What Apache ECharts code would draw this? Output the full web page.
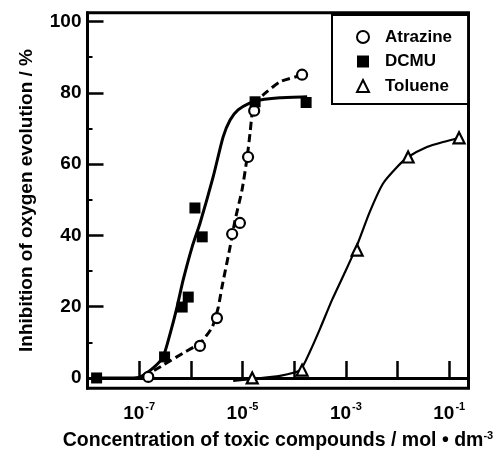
<!DOCTYPE html>
<html>
<head>
<meta charset="utf-8">
<script src="https://cdn.jsdelivr.net/npm/echarts@6/dist/echarts.min.js"></script>
<style>html,body{margin:0;padding:0;background:#fff}#c{width:501px;height:470px}</style>
</head>
<body>
<div id="c"></div>
<script>
// measured points
const atrazineX = [1.5e-7, 1.5e-6, 3.2e-6, 6.3e-6, 8.9e-6, 1.28e-5, 1.68e-5, 1.42e-4];
const atrazineY = [0.3, 9.0, 16.8, 40.4, 43.5, 62.0, 75.0, 85.1];
const dcmuX = [1.5e-8, 3.1e-7, 6.8e-7, 8.9e-7, 1.2e-6, 1.66e-6, 1.75e-5, 1.7e-4];
const dcmuY = [0, 5.9, 19.9, 22.7, 47.7, 39.6, 77.5, 77.3];
const tolueneX = [1.54e-5, 1.42e-4, 1.65e-3, 1.6e-2, 0.155];
const tolueneY = [0, 2.2, 35.9, 62.0, 67.4];
// fitted curves
const dcmuCurveX = [1.5e-8, 6.7e-8, 1.05e-7, 1.87e-7, 2.9e-7, 4.0e-7, 5.4e-7, 7.1e-7, 1.06e-6, 1.51e-6, 2.7e-6, 4.2e-6, 5.75e-6, 8.2e-6, 1.4e-5, 2.2e-5, 5.3e-5, 1.78e-4];
const dcmuCurveY = [0, 0, 0.3, 2.8, 5.9, 12.6, 19.9, 27.5, 36.8, 43.5, 56.4, 67.6, 72.4, 75.2, 77.2, 78.0, 78.6, 78.9];
const atrazineCurveX = [1.2e-7, 2.9e-7, 7.1e-7, 1.51e-6, 2.6e-6, 3.4e-6, 4.0e-6, 5.75e-6, 7.2e-6, 9.8e-6, 1.23e-5, 1.4e-5, 1.54e-5, 1.75e-5, 2.5e-5, 5.3e-5, 1.14e-4, 1.42e-4];
const atrazineCurveY = [0.3, 3.6, 7.0, 9.8, 14.3, 19.9, 25.5, 36.8, 44.4, 52.8, 62.0, 68.8, 74.4, 77.2, 79.4, 83.1, 84.6, 85.1];
const tolueneCurveX = [6.6e-6, 1.54e-5, 5.3e-5, 1.3e-4, 2.0e-4, 3.2e-4, 5.4e-4, 9.7e-4, 1.65e-3, 2.9e-3, 5.2e-3, 9.8e-3, 1.6e-2, 3.7e-2, 7.6e-2, 0.162];
const tolueneCurveY = [-0.8, -0.3, 0.6, 2.2, 7.3, 14.0, 21.9, 29.8, 37.3, 46.6, 54.5, 59.2, 62.0, 64.8, 66.2, 67.4];
// ticks
const xTickValues = [1e-7, 1e-6, 1e-5, 1e-4, 1e-3, 1e-2, 1e-1];
const xLabelValues = [1e-7, 1e-5, 1e-3, 1e-1];
const yMajorTicks = [0, 20, 40, 60, 80, 100];
const yMinorTicks = [10, 30, 50, 70, 90];
const seriesNames = ['Atrazine', 'DCMU', 'Toluene'];

const zip = (xs, ys) => xs.map((x, i) => [x, ys[i]]);
const FONT = 'Liberation Sans';

const chart = echarts.init(document.getElementById('c'), null, {renderer: 'canvas'});
chart.setOption({
  animation: false,
  backgroundColor: '#fff',
  textStyle: {fontFamily: FONT, color: '#000', fontWeight: 'bold'},
  grid: {left: 87.5, right: 32.5, top: 12.7, bottom: 81.7, show: true, borderColor: '#000', borderWidth: 3, backgroundColor: 'transparent'},
  legend: {
    data: seriesNames,
    orient: 'vertical',
    left: 332, top: 15,
    padding: [13, 16, 9, 24],
    itemWidth: 12, itemHeight: 12, itemGap: 6.5,
    borderColor: '#000', borderWidth: 2, backgroundColor: '#fff',
    textStyle: {fontFamily: FONT, fontSize: 17, fontWeight: 'bold', color: '#000', lineHeight: 18, padding: [0, 0, 0, 11]}
  },
  xAxis: {
    type: 'log', logBase: 10, min: 1e-8, max: 0.236,
    axisLine: {lineStyle: {color: '#000', width: 3}},
    axisTick: {inside: true, length: 17, customValues: xTickValues, lineStyle: {color: '#000', width: 2.5}},
    splitLine: {show: false},
    axisLabel: {
      customValues: xLabelValues, margin: 13,
      formatter: v => '{b|10}{s|' + Math.round(Math.log10(v)) + '}',
      rich: {
        b: {fontFamily: FONT, fontSize: 19, fontWeight: 'bold', color: '#000', lineHeight: 22, verticalAlign: 'bottom'},
        s: {fontFamily: FONT, fontSize: 11, fontWeight: 'bold', color: '#000', verticalAlign: 'top', padding: [0, 0, 10, 1]}
      }
    },
    name: 'Concentration of toxic compounds / mol • dm{s|-3}',
    nameLocation: 'middle', nameGap: 42,
    nameTextStyle: {fontFamily: FONT, fontSize: 19.5, fontWeight: 'bold', color: '#000',
      rich: {s: {fontFamily: FONT, fontSize: 11, fontWeight: 'bold', color: '#000', verticalAlign: 'top', padding: [0, 0, 10, 0]}}}
  },
  yAxis: [{
    type: 'value', min: -2.9, max: 102.5,
    axisLine: {lineStyle: {color: '#000', width: 3}},
    axisTick: {inside: true, length: 16, customValues: yMajorTicks, lineStyle: {color: '#000', width: 2.5}},
    splitLine: {show: false},
    axisLabel: {customValues: yMajorTicks, margin: 6, fontFamily: FONT, fontSize: 19, fontWeight: 'bold', color: '#000'},
    name: 'Inhibition of oxygen evolution / %',
    nameLocation: 'middle', nameGap: 51,
    nameTextStyle: {fontFamily: FONT, fontSize: 19, fontWeight: 'bold', color: '#000'}
  }, {
    type: 'value', min: -2.9, max: 102.5, position: 'right', offset: -381,
    axisLine: {show: false},
    axisTick: {inside: false, length: 5, customValues: yMinorTicks, lineStyle: {color: '#000', width: 2}},
    splitLine: {show: false},
    axisLabel: {show: false}
  }],
  series: [
    {name: 'DCMU curve', type: 'line', data: zip(dcmuCurveX, dcmuCurveY), smooth: 0.2, showSymbol: false,
      lineStyle: {color: '#000', width: 3}, z: 2, silent: true},
    {name: 'Atrazine curve', type: 'line', data: zip(atrazineCurveX, atrazineCurveY), smooth: 0.2, showSymbol: false,
      lineStyle: {color: '#000', width: 3, type: [8, 4.5]}, z: 2, silent: true},
    {name: 'Toluene curve', type: 'line', data: zip(tolueneCurveX, tolueneCurveY), smooth: 0.2, showSymbol: false,
      lineStyle: {color: '#000', width: 2.2}, z: 2, silent: true},
    {name: 'Atrazine', type: 'scatter', data: zip(atrazineX, atrazineY), symbol: 'circle', symbolSize: 10,
      itemStyle: {color: '#fff', borderColor: '#000', borderWidth: 2.2, opacity: 1}, z: 5},
    {name: 'DCMU', type: 'scatter', data: zip(dcmuX, dcmuY), symbol: 'rect', symbolSize: 11,
      itemStyle: {color: '#000', opacity: 1}, z: 5},
    {name: 'Toluene', type: 'scatter', data: zip(tolueneX, tolueneY), symbol: 'triangle', symbolSize: 11,
      itemStyle: {color: '#fff', borderColor: '#000', borderWidth: 2.2, opacity: 1}, z: 5}
  ]
});
</script>
</body>
</html>
